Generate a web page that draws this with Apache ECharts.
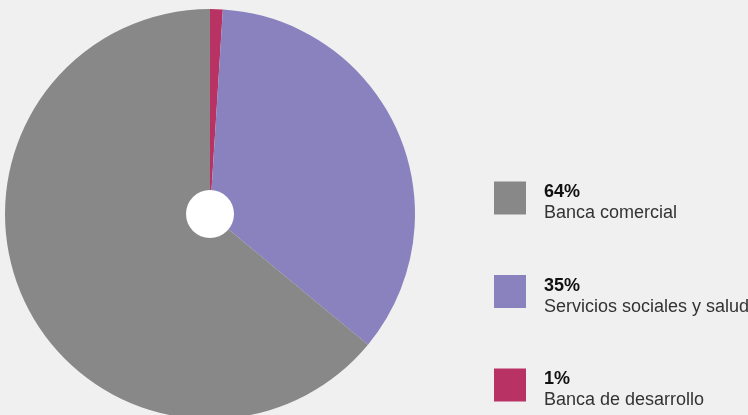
<!DOCTYPE html>
<html><head><meta charset="utf-8">
<script src="https://cdn.jsdelivr.net/npm/echarts@6/dist/echarts.min.js"></script>
<style>html,body{margin:0;padding:0;background:#f0f0f0}#c{width:748px;height:415px}</style>
</head><body><div id="c"></div>
<script>
const categories = ['Banca comercial', 'Servicios sociales y salud', 'Banca de desarrollo'];
const values = [64, 35, 1];
const colors = ['#888888', '#8a82bf', '#b83363'];
// slice drawing order (clockwise from 12 o'clock)
const sliceOrder = [2, 1, 0];

const chart = echarts.init(document.getElementById('c'), null, {renderer: 'canvas'});
const pieData = sliceOrder.map(i => ({name: categories[i], value: values[i], itemStyle: {color: colors[i]}}));
const pctOf = {};
categories.forEach((c, i) => pctOf[c] = values[i]);

const legendTops = [181.5, 275, 368.5];
const legends = categories.map((c, i) => ({
  orient: 'vertical',
  left: 494,
  top: legendTops[i],
  padding: 0,
  itemWidth: 32,
  itemHeight: 33,
  icon: 'rect',
  data: [c],
  selectedMode: false,
  formatter: n => '{p|' + pctOf[n] + '%}\n{n|' + n + '}',
  textStyle: {
    fontFamily: 'Liberation Sans',
    fontSize: 18,
    padding: [10, 0, 0, 13],
    rich: {
      p: {fontFamily: 'Liberation Sans', fontSize: 18, fontWeight: 'bold', color: '#111', lineHeight: 21},
      n: {fontFamily: 'Liberation Sans', fontSize: 18, color: '#333', lineHeight: 21}
    }
  }
}));

chart.setOption({
  backgroundColor: '#f0f0f0',
  animation: false,
  legend: legends,
  series: [{
    type: 'pie',
    center: [210, 214],
    radius: [0, 205],
    startAngle: 90,
    clockwise: true,
    label: {show: false},
    labelLine: {show: false},
    emphasis: {disabled: true},
    silent: true,
    data: pieData
  }, {
    type: 'pie',
    center: [210, 214],
    radius: [0, 24],
    silent: true,
    label: {show: false},
    labelLine: {show: false},
    emphasis: {disabled: true},
    legendHoverLink: false,
    data: [{name: 'hole', value: 1, itemStyle: {color: '#ffffff'}}]
  }]
});
</script></body></html>
